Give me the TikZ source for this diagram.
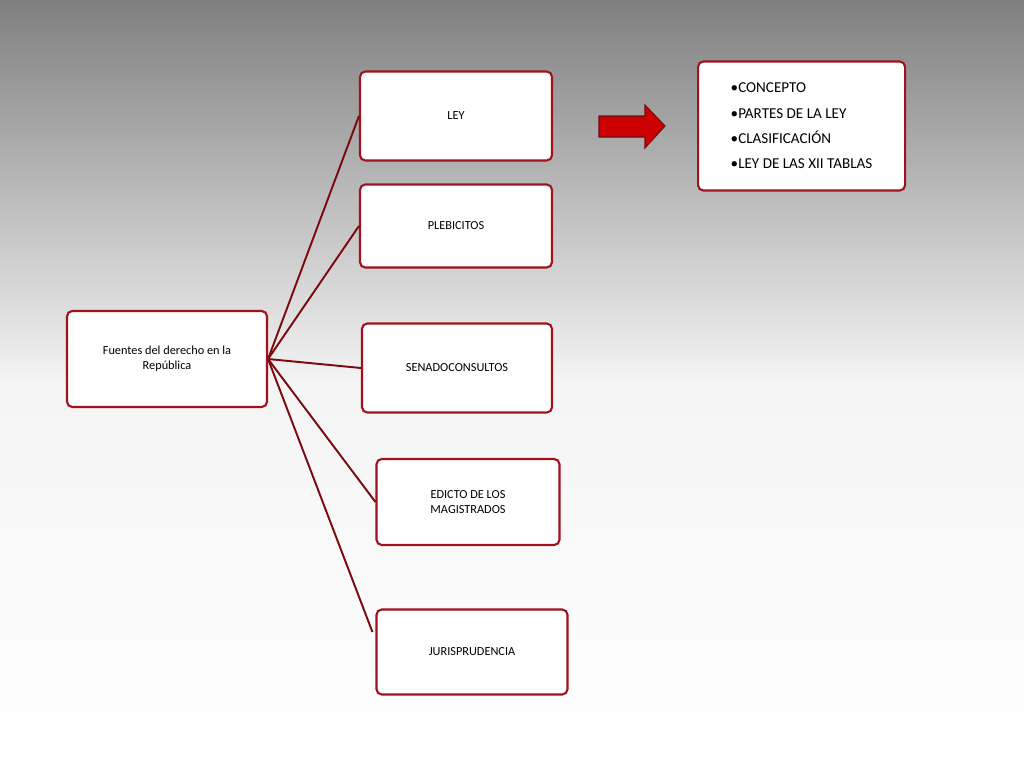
\documentclass[tikz,border=0pt]{standalone}
\usepackage{fontspec}
\setmainfont{Carlito}
\definecolor{boxred}{HTML}{A0121E}
\definecolor{linered}{HTML}{7A0A10}

\begin{document}
\begin{tikzpicture}[x = 0.02cm, y = -0.02cm,
                    box/.style = {draw = boxred, line width = 1.2pt, fill = white, rounded corners = 3pt,
                                  align = center, font = \fontsize{7}{8.5}\selectfont, inner sep = 2pt},
                    link/.style = {draw = linered, line width = 1.1pt}]

% background
\shade[inner color = white, outer color = gray!65, middle color = white!92!gray] (0,0) rectangle (1024,768);
\useasboundingbox (0,0) rectangle (1024,768);

% source box
\node [box, minimum width = 200*0.02cm, minimum height = 96*0.02cm] (fuentes) at (167,359) {Fuentes del derecho en la\\ República};

% branches
\node [box, minimum width = 192*0.02cm, minimum height = 89*0.02cm] (ley) at (456,116) {LEY};
\node [box, minimum width = 192*0.02cm, minimum height = 83*0.02cm] (pleb) at (456,226) {PLEBICITOS};
\node [box, minimum width = 190*0.02cm, minimum height = 89*0.02cm] (senado) at (457,368) {SENADOCONSULTOS};
\node [box, minimum width = 183*0.02cm, minimum height = 86*0.02cm] (edicto) at (468,502) {EDICTO DE LOS\\ MAGISTRADOS};
\node [box, minimum width = 191*0.02cm, minimum height = 85*0.02cm] (juris) at (472,652) {JURISPRUDENCIA};

% topics of the law
\node [box, minimum width = 207*0.02cm, minimum height = 129*0.02cm, align = left, anchor = west,
       font = \fontsize{8.6}{14.4}\selectfont] (temas) at (697,126)
      {•CONCEPTO\\ •PARTES DE LA LEY\\ •CLASIFICACIÓN\\ •LEY DE LAS XII TABLAS};

% arrow
\draw [draw = boxred!70!black, fill = red!80!black, line width = 0.6pt]
  (599,116) -- (645,116) -- (645,105) -- (665,126) -- (645,148) -- (645,137) -- (599,137) -- cycle;

\draw [link] (fuentes.east) -- (ley.west);
\draw [link] (fuentes.east) -- (pleb.west);
\draw [link] (fuentes.east) -- (senado.west);
\draw [link] (fuentes.east) -- (edicto.west);
\draw [link] (fuentes.east) -- ([xshift = -3*0.02cm, yshift = 20*0.02cm]juris.west);
\end{tikzpicture}
\end{document}
